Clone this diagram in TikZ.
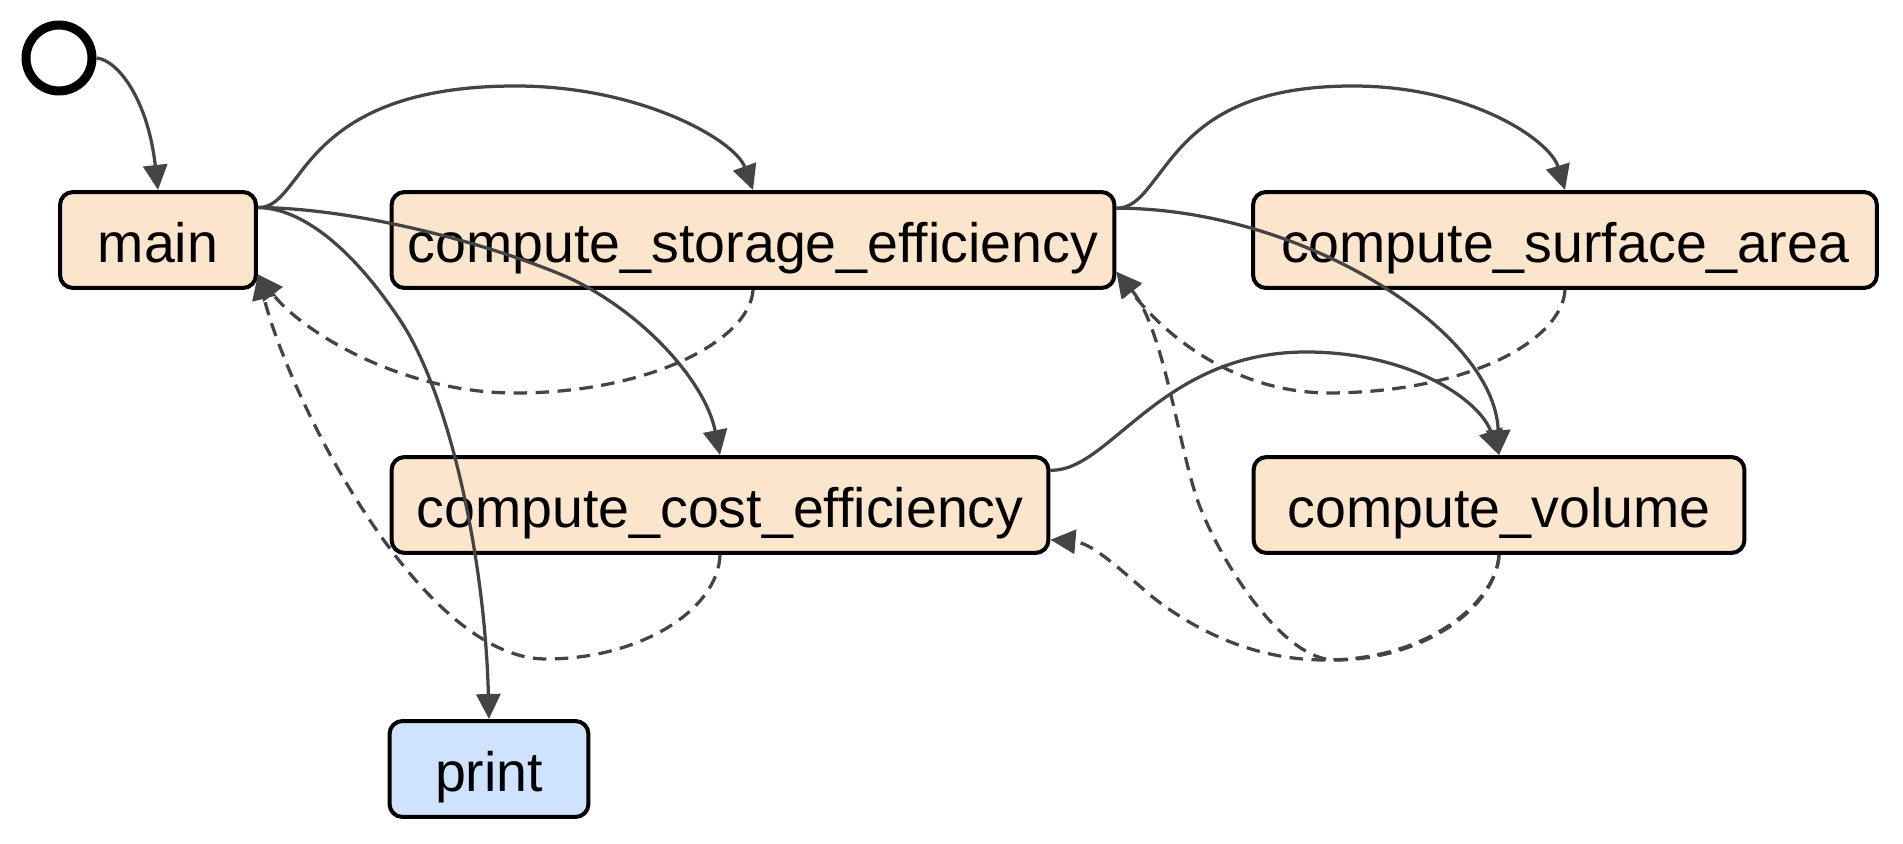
\documentclass[tikz,border=0pt]{standalone}
\usepackage{fontspec}
\setmainfont{Liberation Sans}
\usepackage{xcolor}
\usepackage{tikz}
\usetikzlibrary{arrows.meta, positioning}
\definecolor{funccolor}{RGB}{252,229,205}
\definecolor{extcolor}{RGB}{207,226,255}
\definecolor{edgecolor}{RGB}{68,68,68}

\begin{document}
\begin{tikzpicture}[
    x=0.02cm, y=-0.02cm,
    box/.style={draw, line width=0.08cm, rounded corners=0.26cm, minimum height=1.92cm, inner sep=0pt, text height=25.5pt, text depth=0pt, font=\fontsize{31.6}{38}\selectfont},
    call/.style={-{Triangle[length=0.5cm, width=0.48cm]}, color=edgecolor, line width=0.065cm},
    ret/.style={call, dash pattern=on 0.27cm off 0.17cm}
]
    \useasboundingbox (0,0) rectangle (1903,844);

    \node[circle, draw, line width=0.18cm, minimum size=1.32cm, fill=white] (start) at (59,58) {};
    \node[box, fill=funccolor, minimum width=3.92cm] (main) at (158,240) {main};
    \node[box, fill=funccolor, minimum width=14.46cm] (storage) at (753,240) {compute\_storage\_efficiency};
    \node[box, fill=funccolor, minimum width=12.48cm] (surface) at (1565,240) {compute\_surface\_area};
    \node[box, fill=funccolor, minimum width=13.14cm] (cost) at (720,505) {compute\_cost\_efficiency};
    \node[box, fill=funccolor, minimum width=9.82cm] (volume) at (1499,505) {compute\_volume};
    \node[box, fill=extcolor, minimum width=3.98cm] (print) at (489,769) {print};

    % calls
    \draw[call] (start.east) .. controls (118,60) and (148,100) .. (main.north);
    \draw[call] (main.18) .. controls (275,208) and (285,192) .. (300,173) .. controls (330,133) and (380,86) .. (516,86) .. controls (640,86) and (735,140) .. (storage.north);
    \draw[call] (main.18) .. controls (350,208) and (480,240) .. (567,277) .. controls (640,310) and (705,380) .. (cost.north);
    \draw[call] (main.18) .. controls (300,208) and (350,245) .. (400,320) .. controls (450,395) and (485,560) .. (print.north);
    \draw[call] (storage.5) .. controls (1135,208) and (1145,192) .. (1160,173) .. controls (1190,133) and (1230,86) .. (1353,86) .. controls (1470,86) and (1550,140) .. (surface.north);
    \draw[call] (storage.5) .. controls (1300,208) and (1495,330) .. (volume.north);
    \draw[call] (cost.6) .. controls (1110,472) and (1160,352) .. (1306,352) .. controls (1410,352) and (1480,400) .. (volume.north);

    % returns
    \draw[ret] (storage.south) .. controls (750,340) and (650,393) .. (515,393) .. controls (400,393) and (300,330) .. (main.-19);
    \draw[ret] (cost.south) .. controls (718,610) and (640,659) .. (546,659) .. controls (420,659) and (290,400) .. (main.-19);
    \draw[ret] (surface.south) .. controls (1562,340) and (1470,392) .. (1330,393) .. controls (1230,393) and (1160,330) .. (storage.-5);
    \draw[ret] (volume.south) .. controls (1497,600) and (1430,660) .. (1325,660) .. controls (1260,660) and (1200,635) .. (1150,595) .. controls (1110,560) and (1090,543) .. (cost.-6);
    \draw[ret] (volume.south) .. controls (1495,610) and (1420,660) .. (1335,660) .. controls (1285,660) and (1225,570) .. (1200,507) .. controls (1180,457) and (1165,330) .. (storage.-5);
\end{tikzpicture}
\end{document}
